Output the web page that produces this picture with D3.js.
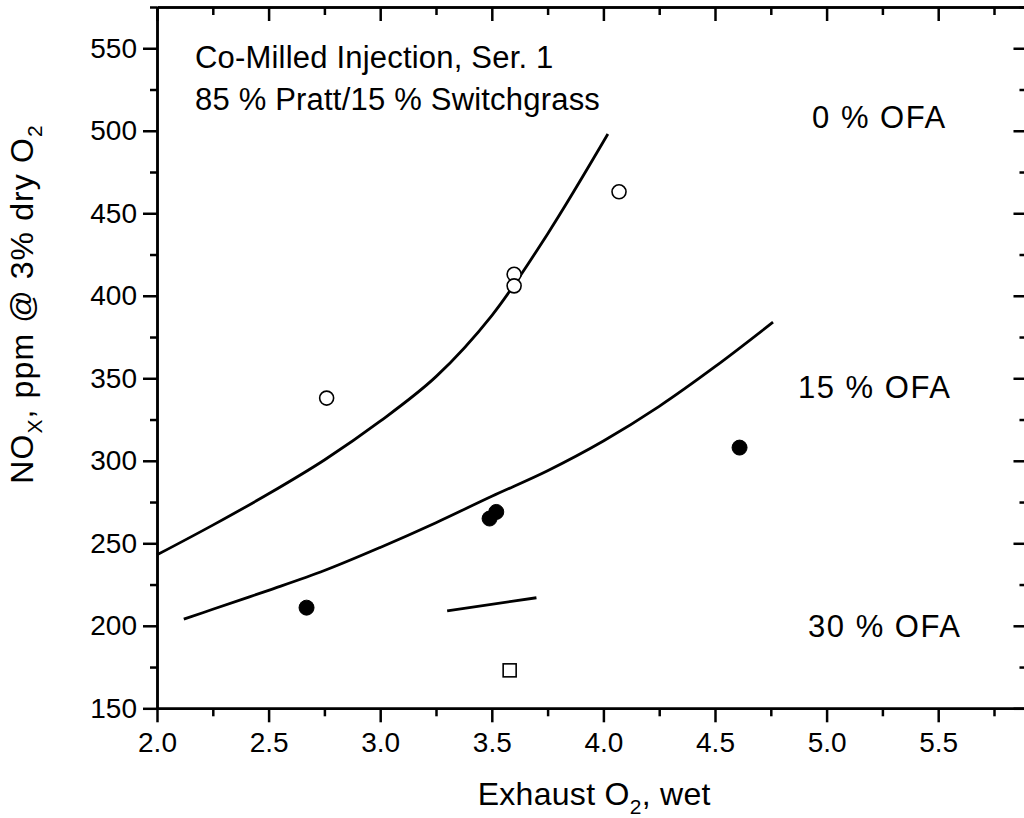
<!DOCTYPE html>
<html><head><meta charset="utf-8">
<script src="https://cdn.jsdelivr.net/npm/d3@7/dist/d3.min.js"></script>
<style>
body{margin:0;background:#fff}
svg{display:block}
text{font-family:"Liberation Sans",Arial,Helvetica,sans-serif;fill:#000}
</style>
</head><body>
<svg id="chart" width="1024" height="818"></svg>
<script>
// ---- data ----
const xMajorTicks = [2.0, 2.5, 3.0, 3.5, 4.0, 4.5, 5.0, 5.5];
const xMinorTicks = [2.25, 2.75, 3.25, 3.75, 4.25, 4.75, 5.25, 5.75];
const yMajorTicks = [150, 200, 250, 300, 350, 400, 450, 500, 550];
const yMinorTicks = [175, 225, 275, 325, 375, 425, 475, 525, 575];

const ofa0X = [2.76, 3.60, 3.60, 4.07];
const ofa0Y = [338, 413, 406, 463];
const ofa15X = [2.67, 3.49, 3.52, 4.61];
const ofa15Y = [211, 265, 269, 308];
const ofa30X = [3.58];
const ofa30Y = [173];

const fit0X = [2.00, 2.25, 2.50, 2.75, 3.00, 3.25, 3.50, 3.75, 4.02];
const fit0Y = [243, 261, 280, 300.5, 324, 351, 388, 437.5, 498];
const fit15X = [2.12, 2.25, 2.50, 2.75, 3.00, 3.25, 3.50, 3.75, 4.00, 4.25, 4.50, 4.76];
const fit15Y = [204, 210, 221.5, 233.5, 247.5, 262.5, 278.5, 294, 312, 333, 357, 384];
const fit30X = [3.30, 3.70];
const fit30Y = [209, 217];

const titleTexts = ["Co-Milled Injection, Ser. 1", "85 % Pratt/15 % Switchgrass"];
const titleAtX = [2.17, 2.17];
const titleAtY = [538, 512.6];
const ofaTexts = ["0 % OFA", "15 % OFA", "30 % OFA"];
const ofaAtX = [4.935, 4.872, 4.917];
const ofaAtY = [501.5, 338, 193.2];

// ---- layout ----
const L = 157, R = 157 + 3.9 * 223.2, T = 7, B = 708.3;
const svg = d3.select("#chart");
const x = d3.scaleLinear().domain([2.0, 5.9]).range([L, R]);
const y = d3.scaleLinear().domain([150, 575]).range([B, T]);

const fontTick = 28;

function styleAxis(g) {
  g.selectAll("path").attr("stroke", "#000").attr("stroke-width", 2.5);
  g.selectAll("line").attr("stroke", "#000").attr("stroke-width", 2.5);
  g.selectAll("text").attr("font-size", fontTick).attr("fill", "#000")
    .attr("font-family", '"Liberation Sans",Arial,sans-serif');
}

// bottom
svg.append("g").attr("transform", `translate(0,${B})`)
  .call(d3.axisBottom(x).tickValues(xMinorTicks).tickSize(8).tickSizeOuter(0).tickFormat(""))
  .call(styleAxis);
svg.append("g").attr("transform", `translate(0,${B})`)
  .call(d3.axisBottom(x).tickValues(xMajorTicks).tickSize(14).tickSizeOuter(0).tickPadding(10).tickFormat(d3.format(".1f")))
  .call(styleAxis);
// top
svg.append("g").attr("transform", `translate(0,${T})`)
  .call(d3.axisTop(x).tickValues(xMinorTicks).tickSize(-8).tickSizeOuter(0).tickFormat(""))
  .call(styleAxis);
svg.append("g").attr("transform", `translate(0,${T})`)
  .call(d3.axisTop(x).tickValues(xMajorTicks).tickSize(-14).tickSizeOuter(0).tickFormat(""))
  .call(styleAxis);
// left
svg.append("g").attr("transform", `translate(${L},0)`)
  .call(d3.axisLeft(y).tickValues(yMinorTicks).tickSize(7).tickSizeOuter(0).tickFormat(""))
  .call(styleAxis);
svg.append("g").attr("transform", `translate(${L},0)`)
  .call(d3.axisLeft(y).tickValues(yMajorTicks).tickSize(14).tickSizeOuter(0).tickPadding(6).tickFormat(d3.format("d")))
  .call(styleAxis);
// right
svg.append("g").attr("transform", `translate(${R},0)`)
  .call(d3.axisRight(y).tickValues(yMinorTicks).tickSize(-8).tickSizeOuter(0).tickFormat(""))
  .call(styleAxis);
svg.append("g").attr("transform", `translate(${R},0)`)
  .call(d3.axisRight(y).tickValues(yMajorTicks).tickSize(-14).tickSizeOuter(0).tickFormat(""))
  .call(styleAxis);

// ---- fitted curves ----
const line = d3.line().x(d => x(d[0])).y(d => y(d[1])).curve(d3.curveCatmullRom.alpha(0.5));
[[fit0X, fit0Y], [fit15X, fit15Y], [fit30X, fit30Y]].forEach(([xs, ys]) => {
  svg.append("path")
    .datum(xs.map((v, i) => [v, ys[i]]))
    .attr("d", line)
    .attr("fill", "none").attr("stroke", "#000").attr("stroke-width", 2.8)
    .attr("stroke-linecap", "butt");
});

// ---- points ----
svg.append("g").selectAll("circle").data(ofa0X.map((v, i) => [v, ofa0Y[i]])).join("circle")
  .attr("cx", d => x(d[0])).attr("cy", d => y(d[1])).attr("r", 7)
  .attr("fill", "#fff").attr("stroke", "#000").attr("stroke-width", 1.6);
svg.append("g").selectAll("circle").data(ofa15X.map((v, i) => [v, ofa15Y[i]])).join("circle")
  .attr("cx", d => x(d[0])).attr("cy", d => y(d[1])).attr("r", 7.5)
  .attr("fill", "#000").attr("stroke", "#000").attr("stroke-width", 1);
svg.append("g").selectAll("rect").data(ofa30X.map((v, i) => [v, ofa30Y[i]])).join("rect")
  .attr("x", d => x(d[0]) - 6.5).attr("y", d => y(d[1]) - 6.5)
  .attr("width", 13).attr("height", 13)
  .attr("fill", "#fff").attr("stroke", "#000").attr("stroke-width", 1.6);

// ---- annotations ----
svg.append("g").selectAll("text").data(titleTexts).join("text")
  .attr("x", (d, i) => x(titleAtX[i])).attr("y", (d, i) => y(titleAtY[i]))
  .attr("font-size", 31).attr("letter-spacing", 0.2)
  .text(d => d);
svg.append("g").selectAll("text").data(ofaTexts).join("text")
  .attr("x", (d, i) => x(ofaAtX[i])).attr("y", (d, i) => y(ofaAtY[i]))
  .attr("font-size", 31).attr("letter-spacing", 1.5)
  .text(d => d);

// ---- axis titles ----
const xt = svg.append("text").attr("x", (L + R) / 2 + 2).attr("y", 805)
  .attr("text-anchor", "middle").attr("font-size", 32).attr("letter-spacing", 0.3);
xt.append("tspan").text("Exhaust O");
xt.append("tspan").attr("font-size", 21).attr("dy", 9).text("2");
xt.append("tspan").attr("dy", -9).text(", wet");

const yt = svg.append("text").attr("transform", "translate(33,304) rotate(-90)")
  .attr("text-anchor", "middle").attr("font-size", 32).attr("letter-spacing", 1.1);
yt.append("tspan").text("NO");
yt.append("tspan").attr("font-size", 21).attr("dy", 9).text("X");
yt.append("tspan").attr("dy", -9).text(", ppm @ 3% dry O");
yt.append("tspan").attr("font-size", 21).attr("dy", 9).text("2");
</script>
</body></html>
